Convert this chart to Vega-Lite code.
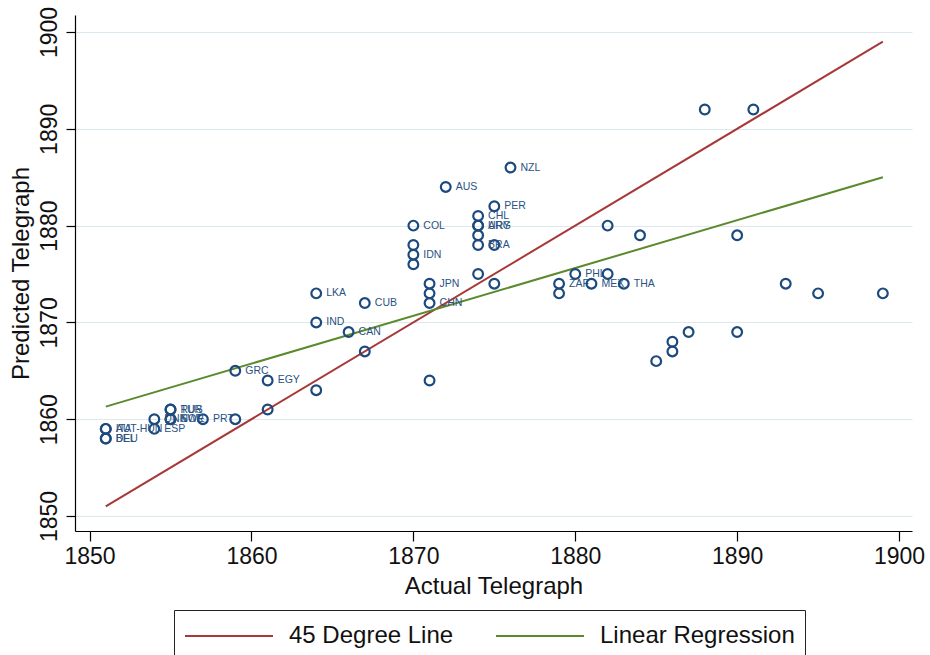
{
  "$schema": "https://vega.github.io/schema/vega-lite/v6.json",
  "autosize": {"type": "none"},
  "width": 837,
  "height": 516,
  "padding": {"left": 75, "top": 15, "right": 18, "bottom": 124},
  "background": "white",
  "config": {
    "view": {"stroke": null},
    "font": "Liberation Sans",
    "axis": {
      "labelFont": "Liberation Sans",
      "titleFont": "Liberation Sans",
      "labelColor": "#111111",
      "titleColor": "#111111",
      "titleFontWeight": "normal",
      "domainColor": "#000000",
      "tickColor": "#000000",
      "domainWidth": 1.2,
      "tickWidth": 1.2
    }
  },
  "datasets": {
    "points": [
      {"actual": 1851, "predicted": 1859, "country": "ITA"},
      {"actual": 1851, "predicted": 1859, "country": "AUT-HUN"},
      {"actual": 1851, "predicted": 1858, "country": "DEU"},
      {"actual": 1851, "predicted": 1858, "country": "BEL"},
      {"actual": 1854, "predicted": 1860, "country": "DNK"},
      {"actual": 1854, "predicted": 1859, "country": "ESP"},
      {"actual": 1855, "predicted": 1861, "country": "RUS"},
      {"actual": 1855, "predicted": 1861, "country": "TUR"},
      {"actual": 1855, "predicted": 1860, "country": "SWE"},
      {"actual": 1855, "predicted": 1860, "country": "NOR"},
      {"actual": 1857, "predicted": 1860, "country": "PRT"},
      {"actual": 1859, "predicted": 1860, "country": ""},
      {"actual": 1861, "predicted": 1861, "country": ""},
      {"actual": 1859, "predicted": 1865, "country": "GRC"},
      {"actual": 1861, "predicted": 1864, "country": "EGY"},
      {"actual": 1864, "predicted": 1863, "country": ""},
      {"actual": 1864, "predicted": 1870, "country": "IND"},
      {"actual": 1864, "predicted": 1873, "country": "LKA"},
      {"actual": 1866, "predicted": 1869, "country": "CAN"},
      {"actual": 1867, "predicted": 1867, "country": ""},
      {"actual": 1867, "predicted": 1872, "country": "CUB"},
      {"actual": 1870, "predicted": 1880, "country": "COL"},
      {"actual": 1870, "predicted": 1878, "country": ""},
      {"actual": 1870, "predicted": 1877, "country": "IDN"},
      {"actual": 1870, "predicted": 1876, "country": ""},
      {"actual": 1871, "predicted": 1874, "country": "JPN"},
      {"actual": 1871, "predicted": 1873, "country": ""},
      {"actual": 1871, "predicted": 1872, "country": "CHN"},
      {"actual": 1871, "predicted": 1864, "country": ""},
      {"actual": 1872, "predicted": 1884, "country": "AUS"},
      {"actual": 1874, "predicted": 1881, "country": "CHL"},
      {"actual": 1874, "predicted": 1880, "country": "ARG"},
      {"actual": 1874, "predicted": 1880, "country": "URY"},
      {"actual": 1874, "predicted": 1879, "country": ""},
      {"actual": 1874, "predicted": 1878, "country": "BRA"},
      {"actual": 1875, "predicted": 1878, "country": ""},
      {"actual": 1876, "predicted": 1886, "country": "NZL"},
      {"actual": 1875, "predicted": 1882, "country": "PER"},
      {"actual": 1874, "predicted": 1875, "country": ""},
      {"actual": 1875, "predicted": 1874, "country": ""},
      {"actual": 1879, "predicted": 1874, "country": "ZAF"},
      {"actual": 1879, "predicted": 1873, "country": ""},
      {"actual": 1880, "predicted": 1875, "country": "PHL"},
      {"actual": 1881, "predicted": 1874, "country": "MEX"},
      {"actual": 1882, "predicted": 1875, "country": ""},
      {"actual": 1883, "predicted": 1874, "country": "THA"},
      {"actual": 1882, "predicted": 1880, "country": ""},
      {"actual": 1884, "predicted": 1879, "country": ""},
      {"actual": 1888, "predicted": 1892, "country": ""},
      {"actual": 1891, "predicted": 1892, "country": ""},
      {"actual": 1890, "predicted": 1879, "country": ""},
      {"actual": 1893, "predicted": 1874, "country": ""},
      {"actual": 1895, "predicted": 1873, "country": ""},
      {"actual": 1899, "predicted": 1873, "country": ""},
      {"actual": 1890, "predicted": 1869, "country": ""},
      {"actual": 1887, "predicted": 1869, "country": ""},
      {"actual": 1886, "predicted": 1868, "country": ""},
      {"actual": 1886, "predicted": 1867, "country": ""},
      {"actual": 1885, "predicted": 1866, "country": ""}
    ],
    "lines": [
      {"series": "45 Degree Line", "actual": 1851, "predicted": 1851},
      {"series": "45 Degree Line", "actual": 1899, "predicted": 1899},
      {"series": "Linear Regression", "actual": 1851, "predicted": 1861.3},
      {"series": "Linear Regression", "actual": 1899, "predicted": 1885}
    ]
  },
  "encoding": {
    "x": {
      "field": "actual", "type": "quantitative",
      "scale": {"domain": [1849.1, 1900.8], "nice": false, "zero": false},
      "axis": {
        "title": "Actual Telegraph", "values": [1850, 1860, 1870, 1880, 1890, 1900], "format": "d",
        "grid": false, "labelFontSize": 23, "titleFontSize": 24,
        "tickSize": 10, "labelPadding": 4, "titleY": 55, "titleBaseline": "middle",
        "labelFlush": false, "labelOverlap": false
      }
    },
    "y": {
      "field": "predicted", "type": "quantitative",
      "scale": {"domain": [1848.45, 1901.76], "nice": false, "zero": false},
      "axis": {
        "title": "Predicted Telegraph", "values": [1850, 1860, 1870, 1880, 1890, 1900], "format": "d",
        "grid": true, "gridColor": "#dce9ef", "gridWidth": 1.2,
        "labelFontSize": 23, "titleFontSize": 24,
        "labelAngle": -90, "labelAlign": "center", "labelBaseline": "bottom",
        "tickSize": 9, "labelPadding": 5,
        "titleAngle": -90, "titleX": -54, "titleY": 258, "titleAlign": "center", "titleBaseline": "middle",
        "labelFlush": false, "labelOverlap": false
      }
    }
  },
  "layer": [
    {
      "data": {"name": "lines"},
      "mark": {"type": "line", "strokeWidth": 2},
      "encoding": {
        "detail": {"field": "series"},
        "color": {
          "field": "series", "type": "nominal",
          "scale": {"domain": ["45 Degree Line", "Linear Regression"], "range": ["#a83838", "#5a8a2c"]},
          "legend": {
            "title": null, "orient": "none", "direction": "horizontal",
            "legendX": 99, "legendY": 595,
            "strokeColor": "#222222", "padding": 10, "fillColor": "white",
            "symbolType": "M-3,0H3", "symbolSize": 860, "symbolStrokeWidth": 2,
            "labelFontSize": 24, "labelFont": "Liberation Sans", "labelColor": "#111111", "labelLimit": 400,
            "labelOffset": 44, "columnPadding": 38, "symbolOffset": 29
          }
        }
      }
    },
    {
      "data": {"name": "points"},
      "mark": {"type": "point", "shape": "circle", "filled": false, "stroke": "#1c4a7e", "strokeWidth": 2.2, "size": 95, "opacity": 1}
    },
    {
      "data": {"name": "points"},
      "mark": {"type": "text", "align": "left", "baseline": "middle", "dx": 10, "fontSize": 10.5, "font": "Liberation Sans", "color": "#2a5283"},
      "encoding": {"text": {"field": "country"}}
    }
  ]
}
